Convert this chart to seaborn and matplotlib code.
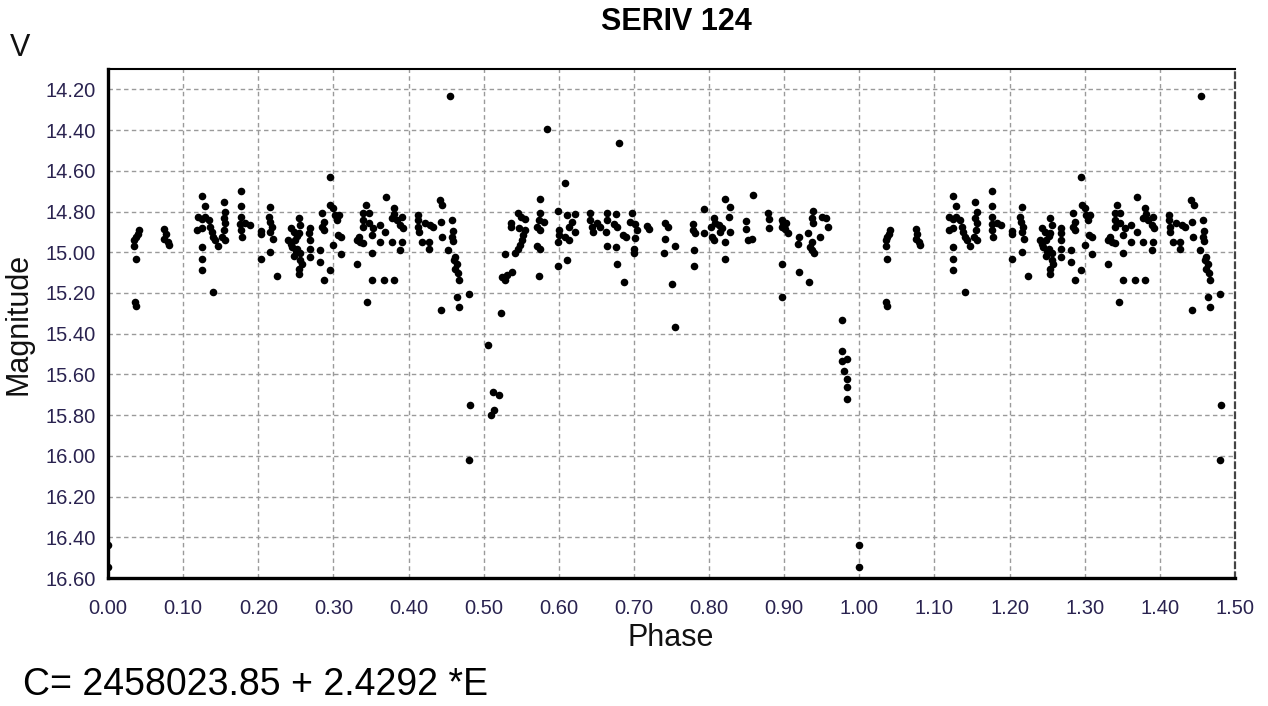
import numpy as np
import pandas as pd
import seaborn as sns
import matplotlib.pyplot as plt
from matplotlib.ticker import MultipleLocator, FormatStrFormatter

# phase (0..1) and V magnitude
phase = [
    0.041, 0.040, 0.037, 0.035, 0.035, 0.037, 0.036, 0.037,
    0.075, 0.077, 0.075, 0.080, 0.081,
    0.125, 0.129, 0.120, 0.125, 0.129, 0.134, 0.119, 0.125, 0.136, 0.138,
    0.140, 0.143, 0.147, 0.125, 0.125, 0.125, 0.140, 0.154, 0.156, 0.154,
    0.156, 0.155, 0.152, 0.156, 0.177, 0.177, 0.177, 0.176, 0.183, 0.189,
    0.177, 0.178,
    0.203, 0.203, 0.203, 0.216, 0.214, 0.215, 0.218, 0.216, 0.219, 0.216,
    0.225,
    0.243, 0.247, 0.254, 0.256, 0.254, 0.249, 0.245, 0.252, 0.256, 0.256,
    0.254, 0.254, 0.240, 0.243, 0.250, 0.258, 0.248, 0.252,
    0.269, 0.268, 0.269, 0.269, 0.269, 0.282, 0.282, 0.287, 0.285, 0.287,
    0.285, 0.287, 0.295, 0.296, 0.300, 0.302, 0.307, 0.305, 0.300, 0.306,
    0.310, 0.310, 0.295, 0.331, 0.331, 0.336, 0.340, 0.334, 0.343, 0.340,
    0.347, 0.340, 0.340, 0.347, 0.351, 0.353, 0.351, 0.345, 0.351, 0.362,
    0.362, 0.367, 0.370, 0.369, 0.380, 0.380, 0.381, 0.378, 0.384, 0.391,
    0.389, 0.392, 0.378, 0.391, 0.389, 0.412, 0.412, 0.413, 0.414, 0.422,
    0.429, 0.433, 0.418, 0.427, 0.427, 0.442, 0.445, 0.443, 0.444, 0.458,
    0.459, 0.458, 0.459, 0.453, 0.462, 0.460, 0.464, 0.462, 0.466, 0.467,
    0.464, 0.467, 0.443, 0.480, 0.455, 0.482, 0.480,
    0.506, 0.513, 0.521, 0.514, 0.510,
    0.680, 0.608, 0.575, 0.546, 0.550, 0.555, 0.537, 0.537, 0.547, 0.555,
    0.553, 0.551, 0.549, 0.546, 0.542, 0.529, 0.575, 0.573, 0.580, 0.571,
    0.575, 0.571, 0.575, 0.573, 0.538, 0.531, 0.524, 0.528, 0.523, 0.599,
    0.600, 0.600, 0.599, 0.599, 0.611, 0.611, 0.622, 0.617, 0.613, 0.613,
    0.608, 0.622, 0.642, 0.642, 0.644, 0.646, 0.651, 0.655, 0.664, 0.664,
    0.663, 0.664, 0.674, 0.676, 0.677, 0.676, 0.677, 0.686, 0.690, 0.687,
    0.697, 0.695, 0.702, 0.704, 0.702, 0.700, 0.700, 0.717, 0.720, 0.741,
    0.746, 0.742, 0.754, 0.740, 0.750, 0.754, 0.584,
    0.778, 0.778, 0.781, 0.780, 0.780, 0.793, 0.793, 0.806, 0.808, 0.803,
    0.804, 0.806, 0.813, 0.817, 0.815, 0.821, 0.828, 0.826, 0.828, 0.821,
    0.821, 0.858, 0.849, 0.849, 0.852, 0.857, 0.879, 0.880, 0.880, 0.897,
    0.899, 0.903, 0.897, 0.901, 0.905, 0.897, 0.897, 0.920, 0.919, 0.920,
    0.932, 0.933, 0.938, 0.937, 0.938, 0.937, 0.935, 0.937, 0.939, 0.950,
    0.955, 0.958, 0.948,
    0.977, 0.977, 0.977, 0.983, 0.980, 0.983, 0.983, 0.983, 0.9995, 0.9995,
]
mag = [
    14.891, 14.911, 14.927, 14.940, 14.970, 15.031, 15.246, 15.265,
    14.887, 14.912, 14.937, 14.949, 14.965,
    14.726, 14.775, 14.828, 14.836, 14.828, 14.841, 14.891, 14.883, 14.878, 14.899,
    14.924, 14.940, 14.970, 14.973, 15.031, 15.089, 15.196, 14.755, 14.800, 14.833,
    14.858, 14.891, 14.924, 14.940, 14.698, 14.772, 14.825, 14.861, 14.858, 14.866,
    14.891, 14.924,
    14.894, 14.912, 15.031, 14.779, 14.825, 14.850, 14.874, 14.899, 14.937, 14.998,
    15.118,
    14.883, 14.899, 14.833, 14.866, 14.907, 14.940, 14.973, 14.982, 15.006, 15.039,
    15.081, 15.105, 14.940, 14.960, 14.995, 15.060, 15.020, 14.920,
    14.883, 14.907, 14.940, 14.982, 15.023, 14.990, 15.048, 15.138, 14.808, 14.850,
    14.874, 14.891, 14.632, 14.767, 14.784, 14.817, 14.817, 14.841, 14.965, 14.916,
    14.927, 15.010, 15.085, 15.059, 14.940, 14.949, 14.957, 14.924, 14.767, 14.805,
    14.808, 14.841, 14.874, 14.858, 14.916, 14.883, 15.003, 15.246, 15.138, 14.866,
    14.949, 15.138, 14.729, 14.899, 15.138, 14.784, 14.812, 14.833, 14.841, 14.825,
    14.866, 14.883, 14.949, 14.949, 14.990, 14.817, 14.841, 14.878, 14.899, 14.858,
    14.866, 14.878, 14.949, 14.949, 14.982, 14.742, 14.767, 14.850, 14.924, 14.841,
    14.894, 14.924, 14.945, 14.990, 15.023, 15.039, 15.056, 15.081, 15.102, 15.138,
    15.221, 15.270, 15.282, 15.204, 14.232, 15.749, 16.021,
    15.455, 15.686, 15.699, 15.773, 15.798,
    14.465, 14.660, 14.739, 14.805, 14.828, 14.836, 14.858, 14.878, 14.883, 14.891,
    14.916, 14.940, 14.965, 14.986, 15.003, 15.011, 14.805, 14.841, 14.850, 14.878,
    14.891, 14.970, 14.986, 15.118, 15.097, 15.114, 15.122, 15.138, 15.300, 14.795,
    14.891, 14.916, 14.949, 15.069, 15.040, 14.817, 14.812, 14.850, 14.878, 14.940,
    14.924, 14.899, 14.805, 14.841, 14.874, 14.899, 14.858, 14.878, 14.805, 14.841,
    14.899, 14.970, 14.861, 14.973, 15.059, 14.812, 14.878, 14.916, 14.924, 15.147,
    14.805, 14.850, 14.861, 14.891, 14.932, 14.982, 15.006, 14.871, 14.887, 14.858,
    14.878, 14.937, 14.970, 15.006, 15.155, 15.367, 14.396,
    14.861, 14.891, 14.904, 14.990, 15.069, 14.788, 14.904, 14.833, 14.858, 14.878,
    14.924, 14.940, 14.866, 14.883, 14.899, 14.739, 14.779, 14.828, 14.899, 14.949,
    15.031, 14.718, 14.845, 14.887, 14.940, 14.937, 14.808, 14.838, 14.883, 14.841,
    14.858, 14.854, 14.878, 14.887, 14.904, 15.059, 15.221, 14.924, 14.960, 15.097,
    14.904, 15.147, 14.795, 14.833, 14.858, 14.949, 14.973, 14.990, 15.006, 14.825,
    14.833, 14.878, 14.924,
    15.333, 15.485, 15.534, 15.526, 15.584, 15.625, 15.663, 15.719, 16.438, 16.544,
]

title = "SERIV 124"
ephemeris = "C= 2458023.85 + 2.4292 *E"

df = pd.DataFrame({"Phase": phase, "Magnitude": mag})
# fold: show each point at phase-1, phase and phase+1, the axis clips to 0..1.5
df = pd.concat([df.assign(Phase=df["Phase"] + k) for k in (-1, 0, 1)], ignore_index=True)

sns.set_style("white")
plt.rcParams["font.family"] = ["Liberation Sans", "DejaVu Sans"]

fig = plt.figure(figsize=(12.68, 7.06), dpi=100)
ax = fig.add_axes([108 / 1268, 1 - 578 / 706, 1127 / 1268, 509 / 706])

sns.scatterplot(data=df, x="Phase", y="Magnitude", ax=ax, color="black",
                s=30, linewidth=0, zorder=3)

ax.set_xlim(0, 1.5)
ax.set_ylim(16.6, 14.1)
ax.xaxis.set_major_locator(MultipleLocator(0.1))
ax.xaxis.set_minor_locator(MultipleLocator(0.025))
ax.yaxis.set_major_locator(MultipleLocator(0.2))
ax.yaxis.set_minor_locator(MultipleLocator(0.05))
ax.xaxis.set_major_formatter(FormatStrFormatter("%.2f"))
ax.yaxis.set_major_formatter(FormatStrFormatter("%.2f"))

ax.grid(True, which="major", color="#9a9a9a", linestyle=(0, (3.2, 2.4)), linewidth=1.0)
ax.set_axisbelow(True)

lab_col = "#2a2350"
ax.tick_params(which="major", direction="out", length=4, width=1.2,
               color="#555555", labelsize=14.5, labelcolor=lab_col, pad=5)
ax.tick_params(which="minor", direction="out", length=2.5, width=1.0, color="#555555")
ax.tick_params(axis="x", which="major", pad=11)

for side in ("left", "bottom"):
    ax.spines[side].set_linewidth(2.4)
    ax.spines[side].set_color("black")
ax.spines["top"].set_linewidth(1.5)
ax.spines["top"].set_color("black")
ax.spines["right"].set_linewidth(1.6)
ax.spines["right"].set_color("#444444")
ax.spines["right"].set_linestyle((0, (2.5, 2)))

ax.set_xlabel("Phase", fontsize=22, color="#111111")
ax.set_ylabel("Magnitude", fontsize=22, color="#111111")
ax.xaxis.set_label_coords(0.4996, -0.088)
ax.yaxis.set_label_coords(-0.066, 0.5)

fig.text(676.5 / 1268, 1 - 22 / 706, title, fontsize=22, fontweight="bold",
         ha="center", va="center", color="black")
fig.text(10 / 1268, 1 - 48 / 706, "V", fontsize=22, ha="left", va="center", color="#111111")
fig.text(23 / 1268, 1 - 685 / 706, ephemeris, fontsize=27, ha="left", va="center",
         color="black")

fig.savefig("out.png", dpi=100)
